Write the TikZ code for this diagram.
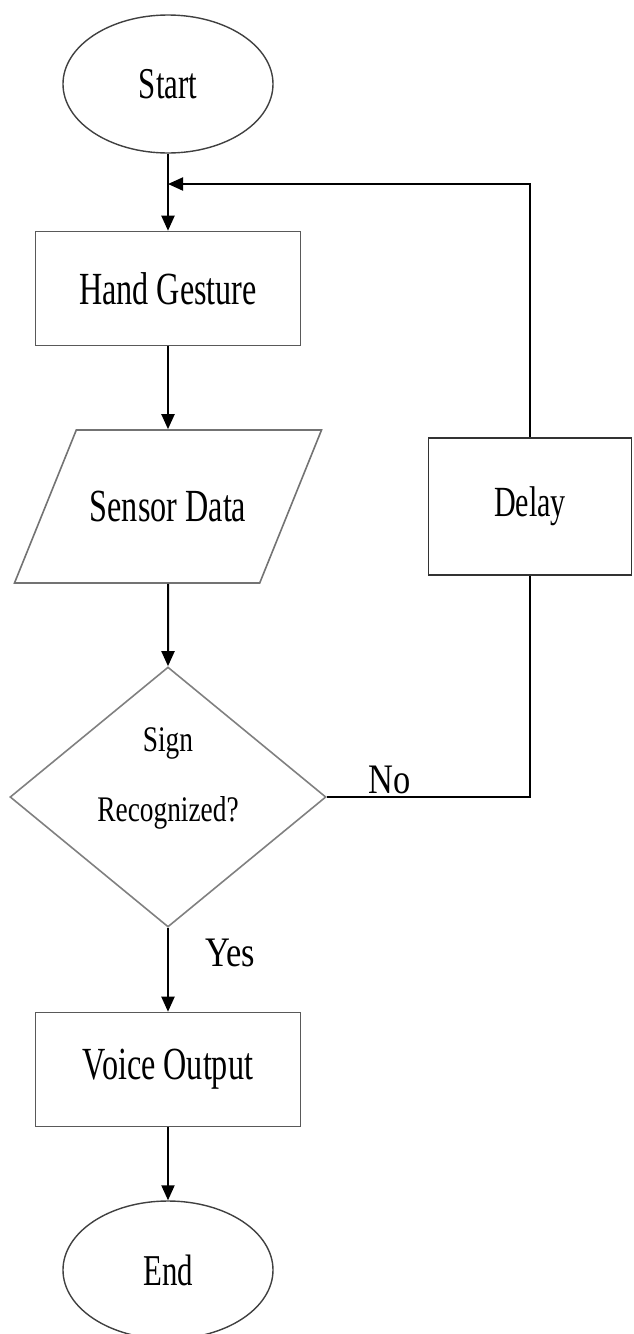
\documentclass[tikz,border=0pt]{standalone}
\usepackage{fontspec}
\setmainfont{Liberation Serif}[FakeStretch=0.7]
\newfontfamily\decfont{Liberation Serif}[FakeStretch=0.76]
\newfontfamily\lblfont{Liberation Serif}[FakeStretch=0.82]
\usepackage{tikz}
\usetikzlibrary{shapes.geometric, arrows.meta}
\tikzstyle{terminal} = [ellipse, minimum width=105pt, minimum height=69pt, inner sep=0pt, text centered, draw=black!75, line width=0.7pt, font=\fontsize{22}{26}\selectfont]
\tikzstyle{process} = [rectangle, minimum width=132.5pt, minimum height=57pt, inner sep=0pt, text centered, draw=black!65, line width=0.8pt, font=\fontsize{23}{27}\selectfont]
\tikzstyle{io} = [trapezium, trapezium left angle=68, trapezium right angle=112, text height=45.75pt, text depth=30.75pt, inner sep=0pt, text centered, draw=black!55, line width=0.8pt, font=\fontsize{23}{27}\selectfont]
\tikzstyle{decision} = [diamond, minimum width=158pt, minimum height=130pt, inner sep=0pt, text centered, draw=black!50, line width=0.8pt, font=\decfont\fontsize{18}{22}\selectfont]
\tikzstyle{arrow} = [line width=1pt, -{Triangle[length=7.5pt,width=6.5pt]}]
\tikzstyle{line} = [draw, line width=1pt]
\tikzstyle{lbl} = [font=\lblfont\fontsize{21}{25}\selectfont, inner sep=1pt]

\begin{document}
\begin{tikzpicture}[x=0.5pt, y=-0.5pt]
   \useasboundingbox (0,0) rectangle (633,1334);
   \node (s) [terminal] at (168,84) {Start};
   \node (h) [process, below of=s, node distance=102.25pt] {Hand Gesture};
   \node (sd) [io, below of=h, node distance=109pt] {\makebox[91.7pt]{Sensor Data}};
   \node (dec) [decision, below of=sd, node distance=145.25pt] {\raisebox{5.5pt}[0pt][0pt]{\begin{tabular}{@{}c@{}}Sign\\[13pt]Recognized?\end{tabular}}};
   \node (v) [process, below of=dec, node distance=136.25pt] {Voice Output};
   \node (e) [terminal, below of=v, node distance=100.25pt] {End};
   \node (d) [process, right of=sd, node distance=181pt, minimum width=101.5pt, minimum height=68.5pt, draw=black!80, font=\fontsize{21.5}{25}\selectfont] {Delay};
   \coordinate[below of=s, node distance=50pt] (j);
   \draw [arrow] (s) -- (h);
   \draw [arrow] (h) -- (sd);
   \draw [arrow] (sd) -- (dec);
   \draw [arrow] (dec) -- node[lbl, pos=0.3, right=17pt] {Yes} (v);
   \draw [arrow] (v) -- (e);
   \path [line] (dec.east) -| node[lbl, pos=0.155, above] {No} (d.south);
   \draw [arrow] (d.north) |- (j);
\end{tikzpicture}
\end{document}
